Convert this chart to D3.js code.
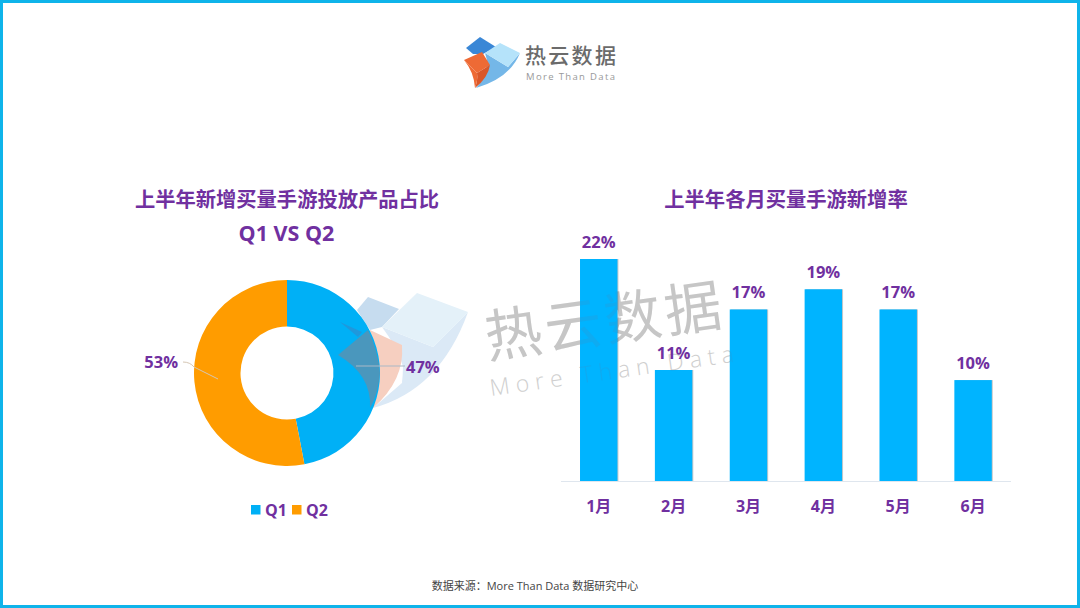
<!DOCTYPE html>
<html><head><meta charset="utf-8">
<script src="https://cdn.jsdelivr.net/npm/d3@7/dist/d3.min.js"></script>
<style>html,body{margin:0;padding:0;background:#fff}svg{display:block}
text{font-family:"Open Sans","Noto Sans CJK SC",sans-serif}
.p{fill:#7030a0;font-weight:700}
.b{filter:drop-shadow(1px 0 0.6px rgba(0,0,0,.22))}</style></head><body><div id="c"></div>
<script>
const months=["1月","2月","3月","4月","5月","6月"];
const monthRates=[22,11,17,19,17,10];
const quarters=["Q1","Q2"];
const quarterShares=[47,53];
const quarterColors=["#00b0f6","#ff9c00"];
const W=1080,H=608;
const svg=d3.select("#c").append("svg").attr("width",W).attr("height",H);
svg.append("rect").attr("x",1.5).attr("y",1.5).attr("width",W-3).attr("height",H-3).attr("fill","#fff").attr("stroke","#0fb4ea").attr("stroke-width",3);

function poly(g,pts,fill,op){g.append("polygon").attr("points",pts.map(p=>p.join(",")).join(" ")).attr("fill",fill).attr("opacity",op==null?1:op);}
function pathS(g,d,fill,op){g.append("path").attr("d",d).attr("fill",fill).attr("opacity",op==null?1:op);}

// header logo
const lg=svg.append("g");
poly(lg,[[466,48],[480,37],[496,47],[483,54],[473,54]],"#3a87d6");
pathS(lg,"M485,53 L508,67 L520,53 Q510,78 476,88 Q492,72 485,53Z","#74b7e8");
poly(lg,[[485,53],[500,43],[520,53],[508,67]],"#b5e3fa");
poly(lg,[[464,60],[482,52],[490,65],[477,73]],"#ee6a35");
pathS(lg,"M477,73 L490,65 Q488,78 475,88 Q478,80 477,73Z","#d9572a");
pathS(lg,"M464,60 L477,73 Q478,80 475,88 Q474,72 464,60Z","#ee6a35");
lg.append("text").attr("x",525).attr("y",63).attr("font-size",21).attr("font-family","Noto Sans CJK SC").attr("fill","#6b6b6b").attr("letter-spacing",2.3).attr("font-weight",500).text("热云数据");
lg.append("text").attr("x",526).attr("y",80).attr("font-size",9.5).attr("fill","#999").attr("letter-spacing",1.35).text("More Than Data");

// background watermark
const wm=svg.append("g");
poly(wm,[[357,310],[368,297],[399,309],[382,327],[370,330]],"#c6dcef");
pathS(wm,"M382,327 L433,347 L468,312 Q440,390 373,408 L402,383 Q410,365 382,327Z","#dbe9f6");
poly(wm,[[382,327],[417,293],[468,312],[433,347]],"#e4f1f9");
pathS(wm,"M370,330 L402,345 Q405,380 373,408 Q375,365 370,330Z","#f6cfc0");
pathS(wm,"M402,345 L433,347 Q425,370 402,383 Q404,365 402,345Z","#dbe9f6");
function wmText(g,c1,c2){
  g.append("text").attr("transform","translate(488,358) rotate(-8)").attr("font-size",57).attr("font-family","Noto Sans CJK SC").attr("fill",c1).attr("letter-spacing",3.4).text("热云数据");
  g.append("text").attr("transform","translate(491,396) rotate(-8)").attr("font-size",23).attr("font-weight",300).attr("fill",c2).attr("letter-spacing",6.1).text("More Than Data");
}
wmText(wm,"#c6c6c6","#cfcfcf");

// titles
svg.append("text").attr("class","p").attr("x",287).attr("y",207).attr("text-anchor","middle").attr("font-size",20.3).text("上半年新增买量手游投放产品占比");
svg.append("text").attr("class","p").attr("x",286.5).attr("y",241).attr("text-anchor","middle").attr("font-size",21.5).text("Q1 VS Q2");
svg.append("text").attr("class","p").attr("x",786).attr("y",207).attr("text-anchor","middle").attr("font-size",20.3).text("上半年各月买量手游新增率");

// donut
const cx=287,cy=373;
const pie=d3.pie().sort(null)(quarterShares);
const arc=d3.arc().innerRadius(46.5).outerRadius(93);
const dg=svg.append("g").attr("transform",`translate(${cx},${cy})`);
dg.selectAll("path").data(pie).join("path").attr("d",arc).attr("fill",(d,i)=>quarterColors[i]);

// watermark cube seen through the donut
const ov=svg.append("g");
pathS(ov,"M338,355 L368,330 Q378,350 380,373 Q378,395 370,408 Q372,375 338,355Z","#4a97bd");
pathS(ov,"M340,322 L362,332 L358,337Z","#1f98dc");

// leader lines and pie labels
svg.append("path").attr("d","M356,366 L405,366").attr("stroke","#a9b8c6").attr("fill","none");
svg.append("path").attr("d","M183,362 Q190,362 194,367 L218,379").attr("stroke","#d5c6b4").attr("fill","none");
svg.append("text").attr("class","p").attr("x",178).attr("y",368).attr("text-anchor","end").attr("font-size",16.5).text(quarterShares[1]+"%");
svg.append("text").attr("class","p").attr("x",406).attr("y",372.5).attr("font-size",16.5).text(quarterShares[0]+"%");

// legend
const lx=[251,292],ltx=[265,306];
quarters.forEach((q,i)=>{
  svg.append("rect").attr("x",lx[i]).attr("y",505).attr("width",9.5).attr("height",9.5).attr("fill",quarterColors[i]);
  svg.append("text").attr("class","p").attr("x",ltx[i]).attr("y",516).attr("font-size",16).text(q);
});

// bars
const x=d3.scaleBand().domain(months).range([561.3,1010.5]).paddingInner(0.5).paddingOuter(0.25);
const y=d3.scaleLinear().domain([0,22]).range([481,259]);
svg.append("line").attr("x1",561).attr("x2",1011).attr("y1",481.5).attr("y2",481.5).attr("stroke","#dfe6ee");
svg.selectAll("rect.b").data(months).join("rect").attr("class","b")
 .attr("x",d=>x(d)).attr("width",x.bandwidth())
 .attr("y",(d,i)=>y(monthRates[i])).attr("height",(d,i)=>481-y(monthRates[i])).attr("fill","#00b4ff");

// faint watermark showing through the bars
const clip=svg.append("clipPath").attr("id","barClip");
clip.selectAll("rect").data(months).join("rect")
 .attr("x",d=>x(d)).attr("width",x.bandwidth())
 .attr("y",(d,i)=>y(monthRates[i])).attr("height",(d,i)=>481-y(monthRates[i]));
const wmOver=svg.append("g").attr("clip-path","url(#barClip)").attr("opacity",0.35);
wmText(wmOver,"#2a9ad6","#2a9ad6");

svg.selectAll("text.v").data(months).join("text").attr("class","p v")
 .attr("x",d=>x(d)+x.bandwidth()/2).attr("y",(d,i)=>y(monthRates[i])-11.5).attr("text-anchor","middle").attr("font-size",16.5)
 .text((d,i)=>monthRates[i]+"%");
svg.selectAll("text.m").data(months).join("text").attr("class","p m")
 .attr("x",d=>x(d)+x.bandwidth()/2).attr("y",512).attr("text-anchor","middle").attr("font-size",16).text(d=>d);

// source
svg.append("text").attr("x",535).attr("y",590).attr("text-anchor","middle").attr("font-size",11).attr("fill","#444").text("数据来源：More Than Data 数据研究中心");
</script></body></html>
